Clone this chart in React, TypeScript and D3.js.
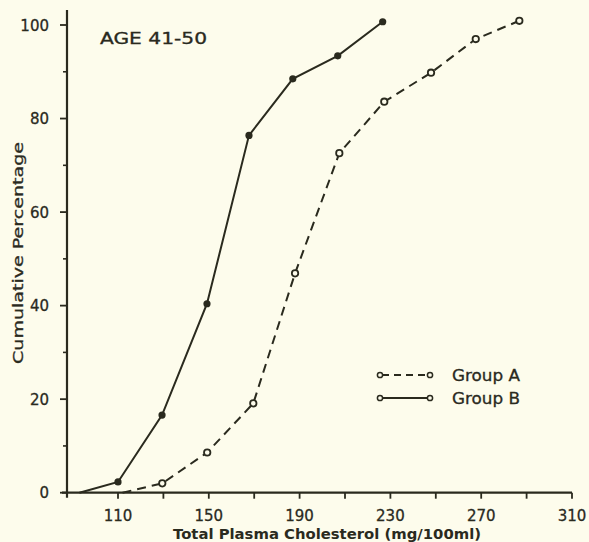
import React from "react";
import * as d3 from "d3";

const groupAX = [112, 129.5, 149.3, 169.6, 188, 207.5, 227.3, 247.9, 267.6, 286.8];
const groupAY = [0, 2.0, 8.6, 19.1, 46.9, 72.6, 83.6, 89.8, 97.0, 100.9];
const groupBX = [93, 110, 129.4, 149.2, 167.7, 187, 206.8, 226.6];
const groupBY = [0, 2.3, 16.6, 40.4, 76.4, 88.5, 93.4, 100.7];
const xTickLabels = [110, 150, 190, 230, 270, 310];
const xTicks = [110, 130, 150, 170, 190, 210, 230, 250, 270, 290, 310];
const yTickLabels = [0, 20, 40, 60, 80, 100];
const yMinorTicks = [10, 30, 50, 70, 90];

const W = 589;
const H = 542;
const INK = "#2a2a1e";
const PAPER = "#fdfcec";
const FONT = "'DejaVu Sans', sans-serif";

export default function App() {
  const x = d3.scaleLinear().domain([110, 310]).range([118, 572]);
  const y = d3.scaleLinear().domain([0, 100]).range([492.7, 25]);
  const axisX = 67;
  const axisY = y(0);

  const line = d3
    .line<[number, number]>()
    .x((d) => x(d[0]))
    .y((d) => y(d[1]));

  const ptsA: [number, number][] = groupAX.map((v, i) => [v, groupAY[i]]);
  const ptsB: [number, number][] = groupBX.map((v, i) => [v, groupBY[i]]);

  return (
    <svg
      width={W}
      height={H}
      style={{ position: "absolute", left: 0, top: 0, background: PAPER }}
    >
      <rect x={0} y={0} width={W} height={H} fill={PAPER} />
      {/* axes */}
      <line x1={axisX} y1={10} x2={axisX} y2={axisY + 5} stroke={INK} strokeWidth={2.2} />
      <line x1={axisX - 5} y1={axisY} x2={x(310)} y2={axisY} stroke={INK} strokeWidth={2.2} />
      {yTickLabels.map((t) => (
        <g key={"yt" + t}>
          <line x1={axisX - 7} x2={axisX} y1={y(t)} y2={y(t)} stroke={INK} strokeWidth={1.8} />
          <text
            x={49}
            y={y(t) + 5.5}
            textAnchor="end"
            fontFamily={FONT}
            fontSize={15}
            fill={INK}
            stroke={INK}
            strokeWidth={0.3}
          >
            {t}
          </text>
        </g>
      ))}
      {yMinorTicks.map((t) => (
        <line key={"ym" + t} x1={axisX - 4} x2={axisX} y1={y(t)} y2={y(t)} stroke={INK} strokeWidth={1.6} />
      ))}
      {xTicks.map((t) => (
        <line key={"xt" + t} x1={x(t)} x2={x(t)} y1={axisY} y2={axisY + 6} stroke={INK} strokeWidth={1.8} />
      ))}
      {xTickLabels.map((t) => (
        <text
          key={"xl" + t}
          x={x(t)}
          y={521}
          textAnchor="middle"
          fontFamily={FONT}
          fontSize={15}
          fill={INK}
          stroke={INK}
          strokeWidth={0.3}
        >
          {t}
        </text>
      ))}
      <text
        x={173}
        y={539}
        fontFamily={FONT}
        fontSize={14}
        fontWeight="bold"
        fill={INK}
        textLength={308}
        lengthAdjust="spacingAndGlyphs"
      >
        Total Plasma Cholesterol (mg/100ml)
      </text>
      <text
        transform={`translate(23, 364) rotate(-90)`}
        fontFamily={FONT}
        fontSize={14}
        fill={INK}
        stroke={INK}
        strokeWidth={0.3}
        textLength={222}
        lengthAdjust="spacingAndGlyphs"
      >
        Cumulative Percentage
      </text>
      <text
        x={100}
        y={44}
        fontFamily={FONT}
        fontSize={15}
        fill={INK}
        stroke={INK}
        strokeWidth={0.3}
        textLength={107}
        lengthAdjust="spacingAndGlyphs"
      >
        AGE  41-50
      </text>

      {/* series */}
      <path d={line(ptsA) || ""} fill="none" stroke={INK} strokeWidth={2} strokeDasharray="9,6" />
      <path d={line(ptsB) || ""} fill="none" stroke={INK} strokeWidth={2} />
      {ptsA.slice(1).map((p, i) => (
        <circle key={"a" + i} cx={x(p[0])} cy={y(p[1])} r={3.2} fill={PAPER} stroke={INK} strokeWidth={1.8} />
      ))}
      {ptsB.slice(1).map((p, i) => (
        <circle key={"b" + i} cx={x(p[0])} cy={y(p[1])} r={3.6} fill={INK} />
      ))}

      {/* legend */}
      <line x1={382} x2={427} y1={375} y2={375} stroke={INK} strokeWidth={1.8} strokeDasharray="7,5" />
      <circle cx={380} cy={375} r={2.6} fill={PAPER} stroke={INK} strokeWidth={1.5} />
      <circle cx={430} cy={375} r={2.6} fill={PAPER} stroke={INK} strokeWidth={1.5} />
      <text x={452} y={381} fontFamily={FONT} fontSize={15} fill={INK} stroke={INK} strokeWidth={0.3} textLength={68} lengthAdjust="spacingAndGlyphs">
        Group A
      </text>
      <line x1={382} x2={427} y1={398} y2={398} stroke={INK} strokeWidth={1.8} />
      <circle cx={380} cy={398} r={2.6} fill={PAPER} stroke={INK} strokeWidth={1.5} />
      <circle cx={430} cy={398} r={2.6} fill={PAPER} stroke={INK} strokeWidth={1.5} />
      <text x={452} y={404} fontFamily={FONT} fontSize={15} fill={INK} stroke={INK} strokeWidth={0.3} textLength={68} lengthAdjust="spacingAndGlyphs">
        Group B
      </text>
    </svg>
  );
}
